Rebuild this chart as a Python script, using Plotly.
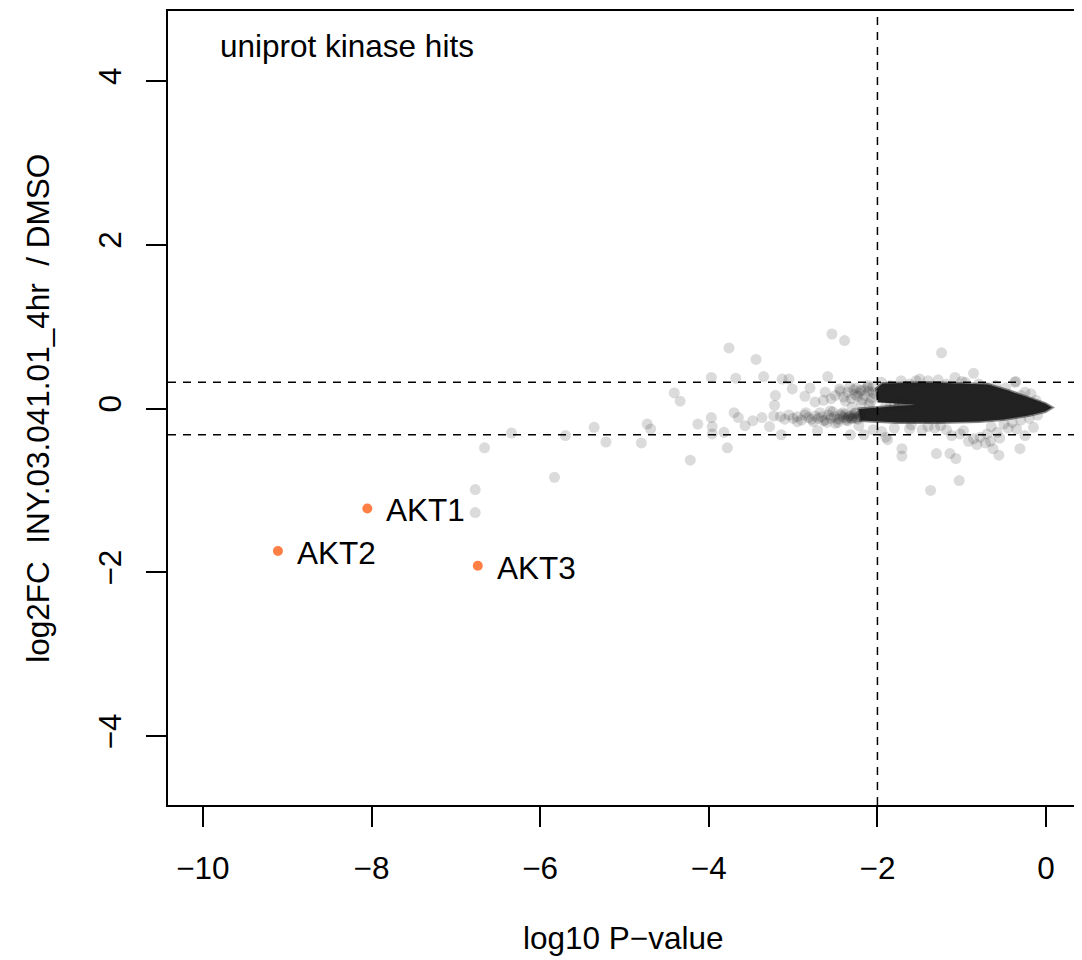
import plotly.graph_objects as go

# ---- data ----
hit_names = ["AKT1", "AKT2", "AKT3"]
hit_logp = [-8.05, -9.11, -6.74]
hit_lfc = [-1.22, -1.74, -1.92]

# dense core of the cloud (outline of fully saturated region)
core_logp = [-1.99, -2.01, -1.94, -1.40, -0.69, -0.45, -0.21, -0.01, 0.07, -0.01,
             -0.21, -0.51, -0.80, -1.28, -1.75, -1.99, -2.20, -2.22, -1.99, -1.55, -1.80]
core_lfc = [0.075, 0.244, 0.305, 0.317, 0.293, 0.220, 0.134, 0.061, 0.012, -0.037,
            -0.085, -0.134, -0.159, -0.171, -0.171, -0.159, -0.146, -0.005, 0.015, 0.045, 0.065]

# individual (semi-transparent) proteins
bg_logp = [-6.66, -6.34, -6.77, -6.77, -5.83, -5.70, -5.36, -5.22, -4.80, -4.73, -4.69,
           -4.41, -4.34, -4.22, -4.13,
           -3.97, -3.97, -3.96, -3.96, -3.82, -3.78, -3.76, -3.70, -3.68, -3.65, -3.57,
           -3.48, -3.44, -3.37, -3.35, -3.28, -3.22, -3.21, -3.23, -3.13, -3.05, -3.01,
           -3.14, -2.86, -2.80, -2.74, -2.64, -2.59, -2.71, -2.54, -2.39, -2.32, -2.16, -2.22,
           # lower arm
           -3.15, -3.10, -3.05, -3.00, -2.95, -2.90, -2.86, -2.82, -2.78, -2.74, -2.70,
           -2.66, -2.62, -2.58, -2.55, -2.51, -2.48, -2.44, -2.40, -2.37, -2.33, -2.30,
           -2.27, -2.24, -2.42, -2.36, -2.28, -2.20, -2.45, -2.34, -2.25, -2.21,
           -2.95, -2.85, -2.76, -2.68, -2.60, -2.53, -2.47, -2.41, -2.50, -2.56, -2.64,
           -2.38, -2.31, -2.26, -2.35, -2.29, -2.23,
           # upper arm
           -2.62, -2.55, -2.50, -2.44, -2.40, -2.35, -2.31, -2.27, -2.22, -2.18, -2.15,
           -2.10, -2.07, -2.03, -2.25, -2.12, -2.20, -2.10, -2.30, -2.05,
           -2.45, -2.38, -2.28, -2.16, -2.08, -2.33, -2.19, -2.11, -2.05, -2.24,
           # notch fill
           -1.90, -1.80, -1.70, -1.62, -1.85, -1.75,
           # right outliers
           -1.24, -0.86, -0.36, -1.71, -1.71, -1.30, -1.14, -1.07, -1.03, -1.37, -0.31,
           -0.56, -0.63, -1.88, -0.15, -0.25,
           # upper fringe
           -1.95, -1.72, -1.54, -1.40, -1.28, -1.08, -0.96, -0.60, -0.37, -0.25, -0.18,
           -1.85, -1.62, -1.18, -0.80, -0.48, -0.30, -0.12, -0.70, -1.50, -1.00,
           # lower fringe
           -1.95, -1.80, -1.62, -1.47, -1.32, -1.18, -1.12, -1.02, -0.98, -0.86, -0.78,
           -0.70, -0.65, -0.58, -0.50, -0.40, -2.05, -1.90, -0.92, -0.72, -0.82, -0.66,
           -0.55, -0.30, -0.20, -0.10, -1.60, -1.40, -1.25, -0.45, -0.35]
bg_lfc = [-0.48, -0.30, -0.99, -1.27, -0.84, -0.33, -0.23, -0.41, -0.42, -0.19, -0.25,
          0.19, 0.09, -0.63, -0.19,
          0.38, -0.11, -0.22, -0.31, -0.29, -0.48, 0.74, -0.05, 0.37, -0.11, -0.21,
          -0.15, 0.60, -0.11, 0.39, -0.22, 0.04, 0.16, -0.09, 0.36, 0.36, 0.24,
          -0.32, 0.15, 0.25, 0.08, 0.10, 0.39, -0.27, 0.91, 0.83, -0.32, -0.32, -0.21,
          -0.10, -0.13, -0.08, -0.12, -0.10, -0.14, -0.08, -0.11, -0.13, -0.09, -0.12,
          -0.10, -0.14, -0.08, -0.12, -0.10, -0.13, -0.07, -0.11, -0.14, -0.09, -0.12,
          -0.06, -0.10, -0.09, -0.12, -0.11, -0.08, -0.13, -0.10, -0.12, -0.09,
          -0.16, -0.05, -0.16, -0.05, -0.17, -0.04, -0.17, -0.05, -0.18, -0.03, -0.15,
          -0.07, -0.12, -0.05, -0.15, -0.09, -0.13,
          0.20, 0.12, 0.16, 0.21, 0.14, 0.20, 0.12, 0.17, 0.19, 0.11, 0.16,
          0.21, 0.13, 0.18, 0.25, 0.26, 0.22, 0.05, 0.02, 0.27,
          0.24, 0.09, 0.23, 0.23, 0.08, 0.26, 0.07, 0.28, 0.20, 0.15,
          0.04, 0.05, 0.04, 0.05, 0.03, 0.06,
          0.68, 0.43, 0.33, -0.49, -0.58, -0.55, -0.55, -0.61, -0.88, -1.00, -0.49,
          -0.57, -0.49, -0.38, -0.23, -0.33,
          0.32, 0.34, 0.34, 0.34, 0.35, 0.38, 0.32, 0.28, 0.32, 0.20, 0.18,
          0.28, 0.30, 0.30, 0.30, 0.25, 0.16, 0.10, 0.26, 0.36, 0.33,
          -0.28, -0.24, -0.25, -0.26, -0.24, -0.26, -0.33, -0.31, -0.27, -0.37, -0.35,
          -0.31, -0.22, -0.29, -0.19, -0.17, -0.26, -0.35, -0.40, -0.42, -0.44, -0.40,
          -0.36, -0.14, -0.12, -0.08, -0.20, -0.22, -0.21, -0.24, -0.25]

p_cut = -2
fc_cut = 0.32
x_ticks = [-10, -8, -6, -4, -2, 0]
y_ticks = [-4, -2, 0, 2, 4]

FONT = "Liberation Sans, Arial, Helvetica, sans-serif"
FS = 31.5

fig = go.Figure()
fig.add_trace(go.Scatter(x=core_logp, y=core_lfc, mode="lines", fill="toself",
                         fillcolor="#222222", line=dict(width=3, color="rgba(34,34,34,0.55)"),
                         hoverinfo="skip", showlegend=False))
fig.add_trace(go.Scatter(x=bg_logp, y=bg_lfc, mode="markers",
                         marker=dict(size=11, color="rgba(34,34,34,0.16)", line=dict(width=0)),
                         showlegend=False))
fig.add_trace(go.Scatter(x=hit_logp, y=hit_lfc, mode="markers",
                         marker=dict(size=10, color="#FF7F45", line=dict(width=0)),
                         showlegend=False))

for n, xv, yv in zip(hit_names, hit_logp, hit_lfc):
    fig.add_annotation(x=xv, y=yv, text=n, showarrow=False, xanchor="left",
                       yanchor="middle", xshift=17, yshift=-2,
                       font=dict(family=FONT, size=FS, color="black"))

dash = "8px,7px"
fig.add_shape(type="line", xref="x", yref="paper", x0=p_cut, x1=p_cut, y0=0, y1=1,
              line=dict(color="black", width=1.5, dash=dash))
for yv in (fc_cut, -fc_cut):
    fig.add_shape(type="line", xref="paper", yref="y", x0=0, x1=1, y0=yv, y1=yv,
                  line=dict(color="black", width=1.5, dash=dash))

fig.add_annotation(xref="paper", yref="paper", x=0.055, y=0.956, text="uniprot kinase hits",
                   showarrow=False, xanchor="left", yanchor="middle",
                   font=dict(family=FONT, size=FS, color="black"))
fig.add_annotation(xref="paper", yref="paper", x=0.5, y=-0.168, text="log10 P\u2212value",
                   showarrow=False, xanchor="center", yanchor="middle",
                   font=dict(family=FONT, size=FS, color="black"))
fig.add_annotation(xref="paper", yref="paper", x=-0.143, y=0.5,
                   text="log2FC\u00a0\u00a0INY.03.041.01_4hr\u00a0\u00a0/ DMSO",
                   textangle=-90, showarrow=False, xanchor="center", yanchor="middle",
                   font=dict(family=FONT, size=FS, color="black"))

# page body has an 8px default margin: size the figure to compensate
fig.update_layout(
    width=1074, height=952,
    margin=dict(l=160, r=1, t=2, b=155),
    paper_bgcolor="white", plot_bgcolor="white",
    font=dict(family=FONT, size=FS, color="black"),
    showlegend=False,
)
fig.update_xaxes(range=[-10.414, 0.3905], tickvals=x_ticks, ticks="outside", ticklen=20,
                 tickwidth=1.5, tickcolor="black", showline=True, linecolor="black",
                 linewidth=1.5, mirror=True, showgrid=False, zeroline=False,
                 ticklabelstandoff=14, tickfont=dict(family=FONT, size=FS, color="black"))
fig.update_yaxes(range=[-4.841, 4.854], tickvals=y_ticks, ticks="outside", ticklen=20,
                 tickwidth=1.5, tickcolor="black", showline=True, linecolor="black",
                 linewidth=1.5, mirror=True, showgrid=False, zeroline=False,
                 tickangle=-90, ticklabelstandoff=13,
                 tickfont=dict(family=FONT, size=FS, color="black"))

fig.write_html("out.html")
